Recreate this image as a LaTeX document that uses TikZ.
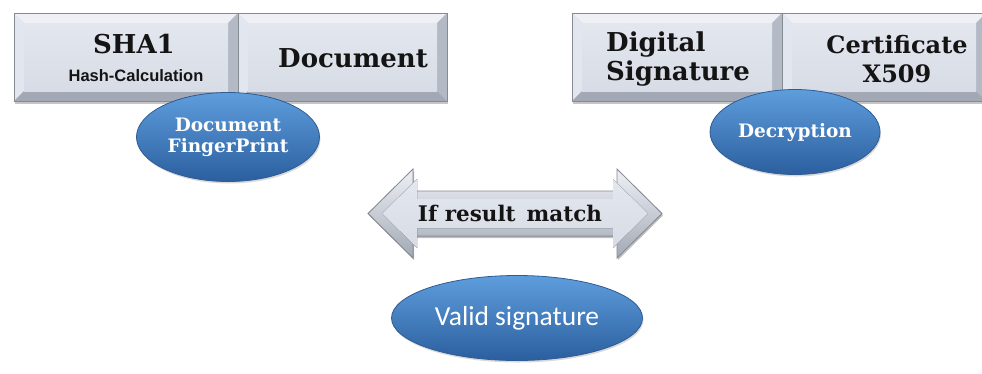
\documentclass[tikz,border=0pt]{standalone}
\usepackage{fontspec}
\setmainfont{DejaVu Serif}
\newfontfamily\arialf{Liberation Sans}
\newfontfamily\calibf{Carlito}
\usetikzlibrary{shapes.geometric,shadows,calc}
\definecolor{face}{HTML}{D7DCE6}
\definecolor{bevlight}{HTML}{EEF0F5}
\definecolor{bevleft}{HTML}{E2E6EE}
\definecolor{bevright}{HTML}{B3B9C5}
\definecolor{bevdark}{HTML}{A2A9B5}
\definecolor{edgegray}{HTML}{858A93}
\definecolor{elltop}{HTML}{5E9DDC}
\definecolor{ellbot}{HTML}{2B5F9F}
\definecolor{elledge}{HTML}{2F5C94}
\definecolor{txtdark}{HTML}{141414}
\tikzset{
  bevelbox/.style={rectangle, inner sep=0pt, fill=face, draw=edgegray, line width=0.8pt,
    drop shadow={shadow xshift=1pt, shadow yshift=-2.5pt, opacity=0.45},
    path picture={
      \def\bw{10pt}
      \coordinate (pNW) at (path picture bounding box.north west);
      \coordinate (pNE) at (path picture bounding box.north east);
      \coordinate (pSW) at (path picture bounding box.south west);
      \coordinate (pSE) at (path picture bounding box.south east);
      \coordinate (iNW) at ([xshift=\bw,yshift=-\bw]pNW);
      \coordinate (iNE) at ([xshift=-\bw,yshift=-\bw]pNE);
      \coordinate (iSW) at ([xshift=\bw,yshift=\bw]pSW);
      \coordinate (iSE) at ([xshift=-\bw,yshift=\bw]pSE);
      \fill[bevlight] (pNW) -- (pNE) -- (iNE) -- (iNW) -- cycle;
      \fill[bevleft] (pNW) -- (iNW) -- (iSW) -- (pSW) -- cycle;
      \fill[bevright] (pNE) -- (pSE) -- (iSE) -- (iNE) -- cycle;
      \fill[bevdark] (pSW) -- (iSW) -- (iSE) -- (pSE) -- cycle;
      \fill[top color=face!70!white, bottom color=face] (iNW) rectangle (iSE);
    }},
  bluell/.style={ellipse, inner sep=0pt, top color=elltop, bottom color=ellbot,
    draw=elledge, line width=0.8pt,
    drop shadow={shadow xshift=1pt, shadow yshift=-2pt, opacity=0.3}},
  bigtxt/.style={font=\bfseries\fontsize{26}{29}\selectfont, text=txtdark, inner sep=0pt},
  elltxt/.style={font=\bfseries\fontsize{18.5}{21}\selectfont, text=white, inner sep=0pt, align=center},
}
\begin{document}
\begin{tikzpicture}[x=1pt,y=-1pt]
\useasboundingbox (0,0) rectangle (982,373);
% top boxes
\node[bevelbox, minimum width=224pt, minimum height=88pt] (sha) at (126,57) {};
\node[bevelbox, minimum width=209pt, minimum height=88pt] (doc) at (342.5,57) {};
\node[bevelbox, minimum width=210pt, minimum height=88pt] (dsig) at (677,57) {};
\node[bevelbox, minimum width=204pt, minimum height=88pt] (cert) at (884,57) {};
% box texts
\node[bigtxt] (shat) at (134,44) {SHA1};
\node[inner sep=0pt, text=txtdark, font=\arialf\bfseries\fontsize{16.5}{20}\selectfont] (hash) at (136,76) {Hash-Calculation};
\node[bigtxt] (doct) at (353,58) {Document};
\node[bigtxt, align=left, anchor=west] (dsigt) at (606,59) {Digital\\Signature};
\node[bigtxt, align=center, font=\bfseries\fontsize{24}{29}\selectfont] (certt) at (897,59) {Certificate\\X509};
% ellipses
\node[bluell, minimum width=183pt, minimum height=89pt] (fp) at (228,137) {};
\node[elltxt] (fpt) at (228,137) {Document\\FingerPrint};
\node[bluell, minimum width=170pt, minimum height=85pt] (dec) at (795,132) {};
\node[elltxt] (dect) at (795,133) {Decryption};
% double arrow
\coordinate (arrc) at (515,213.5);
\fill[black, opacity=0.25] ([xshift=1pt,yshift=-2pt]arrc) ++(-147,0) -- ++(45,-44.5) -- ++(0,22) -- ++(204,0) -- ++(0,-22) -- ++(45,44.5) -- ++(-45,44.5) -- ++(0,-22) -- ++(-204,0) -- ++(0,22) -- cycle;
\filldraw[draw=edgegray, line width=0.8pt, top color=bevlight, bottom color=bevdark]
  (arrc) ++(-147,0) -- ++(45,-44.5) -- ++(0,22) -- ++(204,0) -- ++(0,-22) -- ++(45,44.5) -- ++(-45,44.5) -- ++(0,-22) -- ++(-204,0) -- ++(0,22) -- cycle;
\fill[top color=face!70!white, bottom color=face]
  (arrc) ++(-133,0) -- ++(35,-34.5) -- ++(0,20) -- ++(196,0) -- ++(0,-20) -- ++(35,34.5) -- ++(-35,34.5) -- ++(0,-20) -- ++(-196,0) -- ++(0,20) -- cycle;
\node[font=\bfseries\fontsize{21.5}{23}\selectfont, text=txtdark, inner sep=0pt] (match) at (510,213) {If result\, match};
% valid signature
\node[bluell, minimum width=251pt, minimum height=85pt] (valid) at (517,318) {};
\node[font=\calibf\fontsize{27.5}{30}\selectfont, text=white, inner sep=0pt] (validt) at (517,318) {Valid signature};
\end{tikzpicture}
\end{document}
